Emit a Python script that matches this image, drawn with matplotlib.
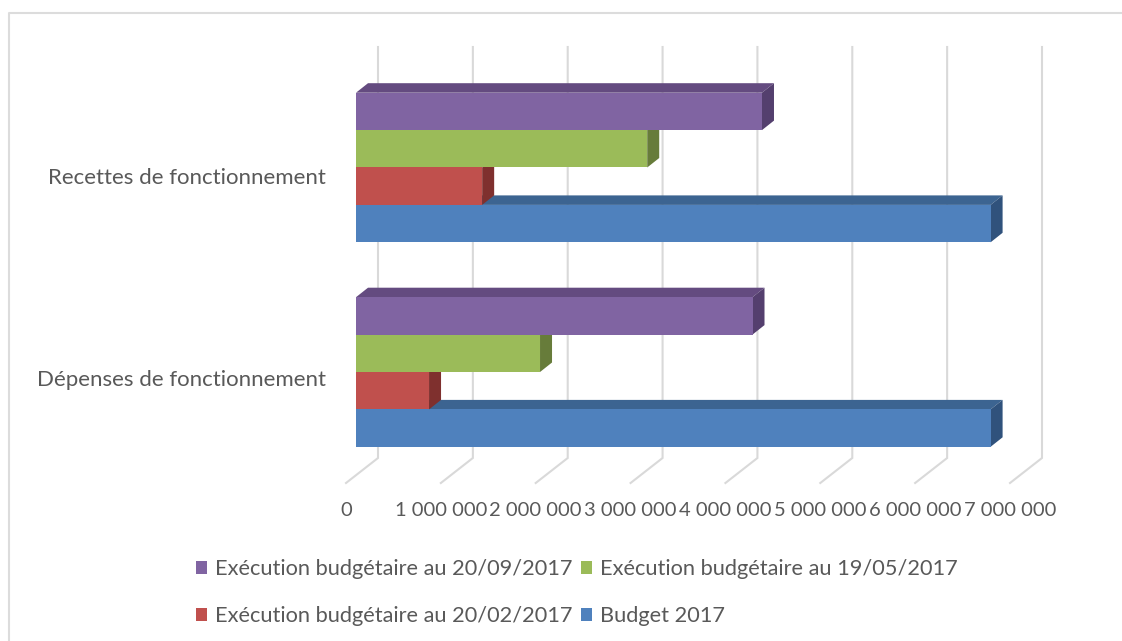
import matplotlib
matplotlib.use("Agg")
import matplotlib.pyplot as plt
from matplotlib.patches import Polygon, Patch
from matplotlib.lines import Line2D
from matplotlib.transforms import ScaledTranslation

categories = ["Dépenses de fonctionnement", "Recettes de fonctionnement"]
ticks = [0, 1000000, 2000000, 3000000, 4000000, 5000000, 6000000, 7000000]
tick_labels = ["0", "1 000 000", "2 000 000", "3 000 000", "4 000 000",
               "5 000 000", "6 000 000", "7 000 000"]

budget = [6690000, 6690000]
exec_feb = [770000, 1330000]
exec_may = [1940000, 3070000]
exec_sep = [4180000, 4280000]

names = ["Budget 2017", "Exécution budgétaire au 20/02/2017",
         "Exécution budgétaire au 19/05/2017", "Exécution budgétaire au 20/09/2017"]
series = [budget, exec_feb, exec_may, exec_sep]
front_colors = ["#4f81bd", "#c0504d", "#9bbb59", "#8064a2"]
top_colors = ["#3c6491", "#94403d", "#7a9443", "#644b80"]
side_colors = ["#30527c", "#7f302e", "#677c3a", "#543f6e"]

W, H = 1122, 641
TEXT = "#595959"
GRID = "#d9d9d9"

plt.rcParams["font.family"] = ["Lato", "DejaVu Sans"]

fig = plt.figure(figsize=(W / 100, H / 100), dpi=100)

# axes box in pixels, measured from the top left corner
left, right, top, bottom = 346, 1010, 47, 483
ax = fig.add_axes([left / W, 1 - bottom / H, (right - left) / W, (bottom - top) / H])

px_x = 7000000 / (right - left)   # value per pixel
px_y = 1 / 204.5                  # category step per pixel
ax.set_xlim(0, 7000000)
ax.set_ylim(-(bottom - 372) * px_y, 1 + (167.5 - top) * px_y)
y_low, y_high = ax.get_ylim()

# floor and wall lines of the fake 3d box
wall_dx = 32 * px_x
wall_y = y_low + 25 * px_y
for t in ticks:
    ax.plot([t, t + wall_dx, t + wall_dx], [y_low, wall_y, y_high],
            color=GRID, lw=1.5, zorder=1, clip_on=False, solid_joinstyle="miter")

# bars: flat front from barh, top and side faces added as polygons
x0 = 10 * px_x
dx = 12 * px_x
dy = 9.5 * px_y
h = 37.4 * px_y
for i, vals in enumerate(series):
    z = 2 + i
    for j, v in enumerate(vals):
        yb = j - 2 * h + i * h
        yt = yb + h
        xe = x0 + v
        ax.barh(yb, v, height=h, left=x0, align="edge", color=front_colors[i], zorder=z + 0.5)
        ax.add_patch(Polygon([(x0, yt), (xe, yt), (xe + dx, yt + dy), (x0 + dx, yt + dy)],
                             closed=True, facecolor=top_colors[i], edgecolor="none", zorder=z))
        ax.add_patch(Polygon([(xe, yb), (xe + dx, yb + dy), (xe + dx, yt + dy), (xe, yt)],
                             closed=True, facecolor=side_colors[i], edgecolor="none", zorder=z))

ax.set_xticks(ticks)
ax.set_xticklabels(tick_labels, fontsize=14.5, color=TEXT)
ax.set_yticks([0, 1])
ax.set_yticklabels(categories, fontsize=16, color=TEXT)
ax.tick_params(axis="x", length=0, pad=13.5)
ax.tick_params(axis="y", length=0, pad=14.5)
# category labels sit a little under the middle of each group
for lab, drop in zip(ax.get_yticklabels(), [6, 8.5]):
    lab.set_transform(lab.get_transform() + ScaledTranslation(0, -drop / 100, fig.dpi_scale_trans))
for s in ax.spines.values():
    s.set_visible(False)

# legend, column by column
order = [3, 1, 2, 0]
handles = [Patch(facecolor=front_colors[k], edgecolor="none", label=names[k]) for k in order]
fig.legend(handles=handles, loc="upper left", bbox_to_anchor=(196 / W, 1 - 559 / H), ncol=2,
           frameon=False, fontsize=15.7, labelcolor=TEXT, handlelength=0.5, handleheight=0.55,
           handletextpad=0.37, columnspacing=0.41, labelspacing=1.23, borderpad=0, borderaxespad=0)

# chart frame
fig.add_artist(Line2D([8.5 / W, 8.5 / W, 1], [0, 1 - 12.5 / H, 1 - 12.5 / H],
                      color="#dcdcdc", lw=1.5, transform=fig.transFigure))

fig.savefig("out.png", dpi=100)
